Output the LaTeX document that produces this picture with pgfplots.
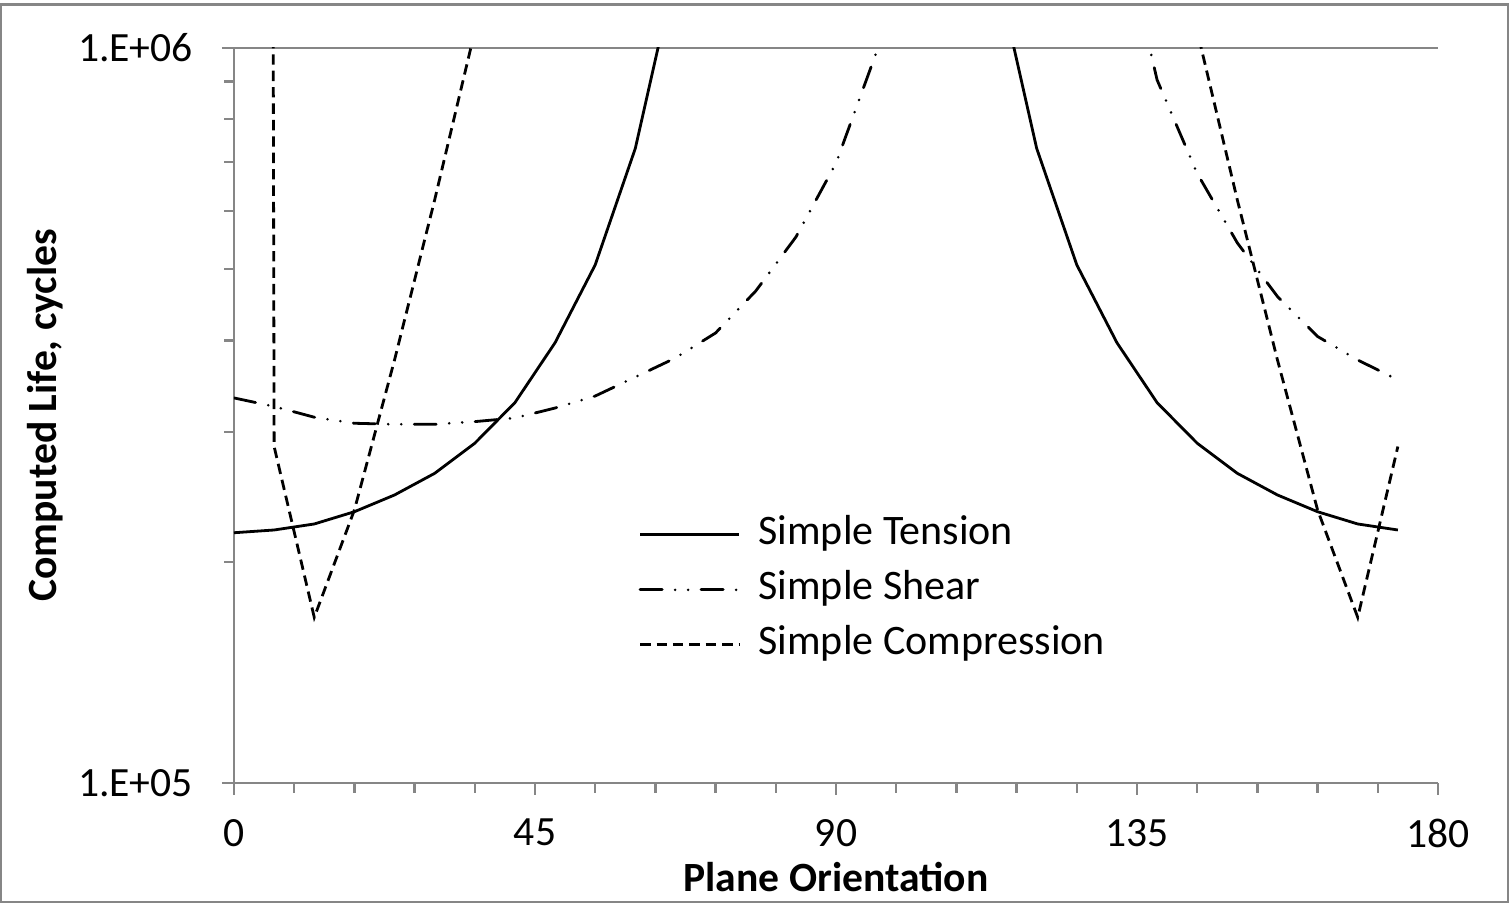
\documentclass[border=0pt]{standalone}
\usepackage{fontspec}
\setmainfont{Carlito}
\usepackage{pgfplots}
\usepackage{pgfplotstable}
\pgfplotsset{compat=1.18}
\definecolor{axgray}{RGB}{134,134,134}

\pgfplotstableread{
x y
0 219000
6 220900
12 225100
18 233900
24 246500
30 263800
36 289900
42 329200
48 397200
54 506800
60 730300
66 1274000
72 2000000
78 2820000
84 3550000
90 3980000
96 3550000
102 2820000
108 2000000
114 1274000
120 730300
126 506800
132 397200
138 329200
144 289900
150 263800
156 246500
162 233900
168 225100
174 220900
}\tension

\pgfplotstableread{
x y
0 334100
6 325300
12 314500
18 308600
24 307600
30 307600
36 310200
42 313800
48 323700
54 336100
60 356700
66 378700
72 409500
78 467000
84 553000
90 697000
96 984000
102 1580000
108 2000000
114 2240000
120 2140000
126 1900000
132 1560000
138 905000
144 675000
150 543000
156 459000
162 405000
168 376300
174 353500
}\shear

\pgfplotstableread{
x y
0 1e30
6 286900
12 168000
18 235200
24 376300
30 621300
36 1054000
42 1780000
48 3160000
54 5000000
60 7900000
66 10000000
72 10000000
78 10000000
84 10000000
90 10000000
96 10000000
102 10000000
108 10000000
114 10000000
120 7900000
126 5000000
132 3160000
138 1780000
144 1054000
150 621300
156 376300
162 235200
168 168000
174 286900
}\compression

\begin{document}
\begin{tikzpicture}
\useasboundingbox (-58.5pt,-30pt) rectangle (318.75pt,195.75pt);
\draw[axgray, line width=0.6pt] (-58.2pt,-29.7pt) rectangle (318.45pt,194.6pt);
\begin{axis}[
  at={(0,0)}, anchor=south west,
  scale only axis, width=301pt, height=183.75pt,
  xmin=0, xmax=180, ymin=1e5, ymax=1e6,
  ymode=log,
  axis x line=bottom, axis y line=left,
  axis line style={axgray, line width=0.6pt, -},
  xtick={0,45,90,135,180},
  xticklabels={0,45,90,135,180},
  minor xtick={9,18,27,36,54,63,72,81,99,108,117,126,144,153,162,171},
  ytick={1e5,1e6}, yticklabels={1.E+05,1.E+06},
  minor ytick={2e5,3e5,4e5,5e5,6e5,7e5,8e5,9e5},
  tick align=outside,
  major tick length=3pt, minor tick length=2.4pt,
  every tick/.style={axgray, line width=0.6pt},
  ymajorgrids, major grid style={axgray, line width=0.6pt},
  tick label style={font=\fontsize{10.4}{12}\selectfont, black},
  yticklabel style={xshift=-3.75pt},
  xticklabel style={yshift=-2.5pt},
  xlabel={\textbf{Plane Orientation}},
  ylabel={\textbf{Computed Life, cycles}},
  every axis x label/.style={at={(rel axis cs:0.5,-0.147)}, anchor=base, font=\fontsize{10.4}{12}\selectfont},
  every axis y label/.style={at={(rel axis cs:-0.157,0.5)}, anchor=center, rotate=90, font=\fontsize{10.4}{12}\selectfont},
  legend style={at={(0.3355,0.374)}, anchor=north west, draw=none, fill=none,
    font=\fontsize{10.5}{12}\selectfont, inner sep=0pt, row sep=0.75pt, column sep=2.5pt,
    nodes={text height=7pt, text depth=2pt, inner sep=2pt}},
  legend cell align=left,
  legend image code/.code={\draw[#1] (0pt,0pt) -- (24.75pt,0pt);},
]
\addplot[black, line width=0.7pt] table[x=x,y=y] {\tension};
\addlegendentry{Simple Tension}
\addplot[black, line width=0.7pt, line cap=round, dash pattern=on 5.5pt off 3.25pt on 0pt off 3.25pt on 0pt off 3.25pt] table[x=x,y=y] {\shear};
\addlegendentry{Simple Shear}
\addplot[black, line width=0.7pt, dash pattern=on 2.6pt off 1.5pt] table[x=x,y=y] {\compression};
\addlegendentry{Simple Compression}
\end{axis}
\end{tikzpicture}
\end{document}
